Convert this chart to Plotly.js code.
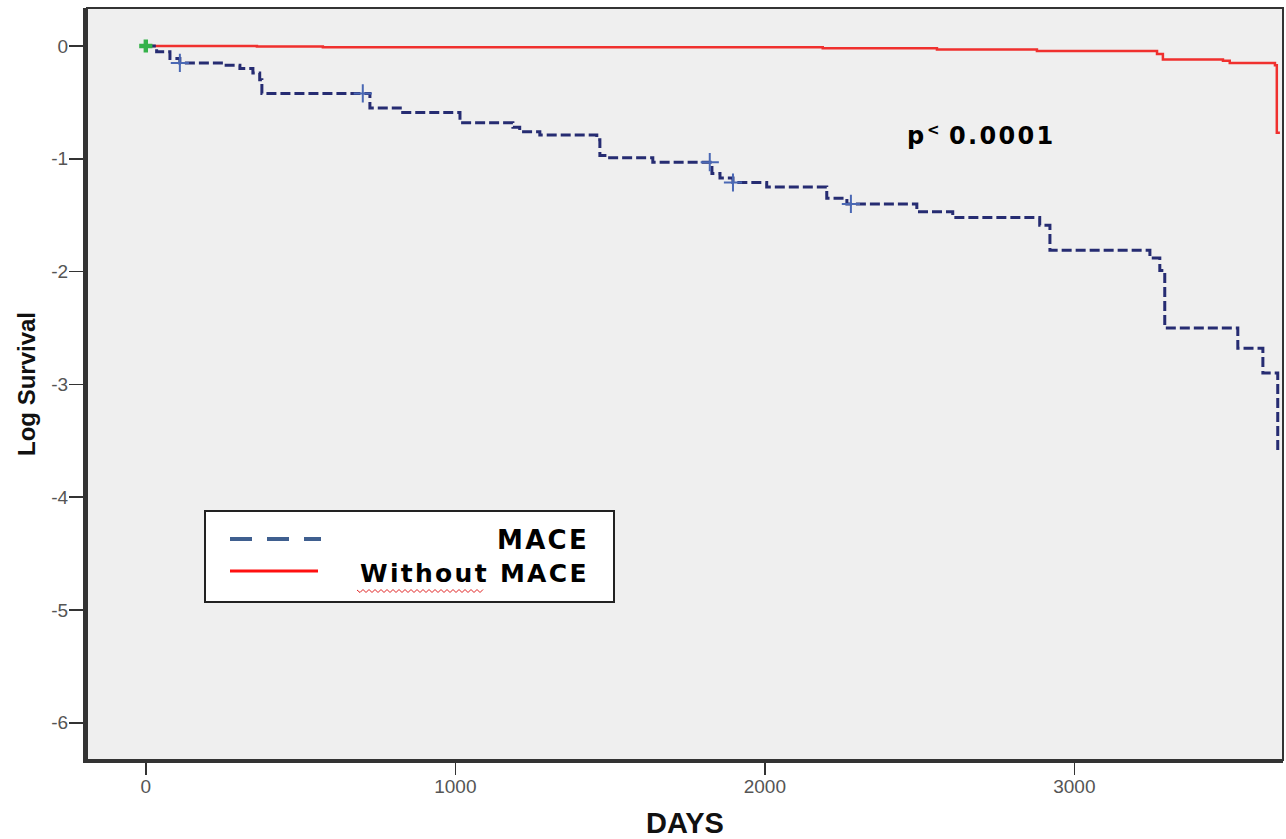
<!DOCTYPE html>
<html>
<head>
<meta charset="utf-8">
<script src="https://cdn.plot.ly/plotly-3.0.1.min.js"></script>
<style>
html,body{margin:0;padding:0;background:#fff;}
#chart{width:1286px;height:839px;}
text.annotation-text{letter-spacing:2.3px;}
</style>
</head>
<body>
<div id="chart"></div>
<script>
// ---- data ----
const maceDays = [0, 35, 78, 110, 250, 304, 346, 368, 375, 724, 830, 1015, 1186, 1208, 1273, 1457, 1467, 1490, 1638, 1829, 1855, 1897, 2006, 2200, 2265, 2491, 2607, 2888, 2921, 3244, 3276, 3292, 3528, 3609, 3657, 3662];
const maceLogSurv = [0, -0.05, -0.11, -0.15, -0.17, -0.20, -0.24, -0.30, -0.42, -0.55, -0.59, -0.68, -0.72, -0.76, -0.79, -0.83, -0.97, -0.99, -1.03, -1.13, -1.17, -1.21, -1.25, -1.35, -1.40, -1.47, -1.52, -1.59, -1.81, -1.88, -1.99, -2.50, -2.68, -2.90, -3.60, -3.60];
const maceCensorDays = [110, 701, 1822, 1897, 2278];
const maceCensorLogSurv = [-0.15, -0.42, -1.03, -1.21, -1.40];

const noMaceDays = [0, 359, 572, 2187, 2556, 2879, 3267, 3286, 3480, 3502, 3648, 3654, 3664];
const noMaceLogSurv = [0, -0.005, -0.012, -0.02, -0.03, -0.045, -0.07, -0.12, -0.13, -0.15, -0.17, -0.77, -0.77];

const startDays = [0];
const startLogSurv = [0];

const xTickVals = [0, 1000, 2000, 3000];
const xTickText = ['0', '1000', '2000', '3000'];
const yTickVals = [0, -1, -2, -3, -4, -5, -6];
const yTickText = ['0', '-1', '-2', '-3', '-4', '-5', '-6'];

const seriesNames = ['MACE', 'Without MACE'];
const pParts = ['p', '<', '0.0001'];

// ---- chart ----
const sans = 'Liberation Sans, Arial, sans-serif';
const wide = 'DejaVu Sans, Verdana, sans-serif';

const traces = [
  {x: noMaceDays, y: noMaceLogSurv, mode: 'lines', line: {shape: 'hv', color: '#f0302e', width: 2.5}, name: seriesNames[1]},
  {x: maceDays, y: maceLogSurv, mode: 'lines', line: {shape: 'hv', color: '#262c72', width: 3, dash: '10px,4px'}, name: seriesNames[0]},
  {x: maceCensorDays, y: maceCensorLogSurv, mode: 'markers', marker: {symbol: 'cross-thin', size: 13, line: {color: '#4a68b4', width: 2}}, name: 'censored'},
  {x: startDays, y: startLogSurv, mode: 'markers', marker: {symbol: 'cross', size: 11, color: '#35b24a'}, name: 'start'}
];

// pixel -> paper / data helpers for the annotation boxes
const px = v => (v - 87) / 1196;
const py = v => (760 - v) / 752;
const dx = v => -190 + (v - 87) / 1196 * (3674 + 190);
const dy = v => 0.337 - (v - 8) / 752 * (0.337 + 6.33);

// spell-check style squiggle under "Without"
let squiggle = 'M ' + px(357) + ' ' + py(590);
for (let k = 1, xx = 357; xx < 483; k++) {
  xx = Math.min(483, 357 + k * 3);
  squiggle += ' L ' + px(xx) + ' ' + py(k % 2 ? 592.5 : 589.5);
}

const bold = (fam, size) => ({family: fam, size: size, color: '#000', weight: 'bold'});

const layout = {
  width: 1286, height: 839,
  margin: {l: 87, r: 3, t: 8, b: 79},
  paper_bgcolor: '#ffffff', plot_bgcolor: '#efefef',
  showlegend: false,
  xaxis: {
    range: [-190, 3674], tickvals: xTickVals, ticktext: xTickText,
    ticks: 'outside', ticklen: 12, tickwidth: 1.5, tickcolor: '#333',
    ticklabelstandoff: -5,
    showgrid: false, zeroline: false, showline: true, linecolor: '#333', linewidth: 3,
    tickfont: {family: sans, size: 19, color: '#555'},
    title: {text: 'DAYS', font: {family: sans, size: 29, color: '#111', weight: 'bold'}, standoff: 20}
  },
  yaxis: {
    range: [-6.33, 0.337], tickvals: yTickVals, ticktext: yTickText,
    ticks: 'outside', ticklen: 14, tickwidth: 1.5, tickcolor: '#333',
    ticklabelstandoff: -3,
    showgrid: false, zeroline: false, showline: true, linecolor: '#333', linewidth: 4,
    tickfont: {family: sans, size: 19, color: '#555'},
    title: {text: 'Log Survival', font: {family: sans, size: 24, color: '#111', weight: 'bold'}, standoff: 10}
  },
  shapes: [
    {type: 'rect', xref: 'paper', yref: 'paper', x0: 0, x1: 1, y0: 0, y1: 1, line: {color: '#333', width: 2}},
    {type: 'rect', xref: 'paper', yref: 'paper', x0: px(205), x1: px(614), y0: py(602), y1: py(511), fillcolor: '#ffffff', line: {color: '#222', width: 2}},
    {type: 'line', xref: 'paper', yref: 'paper', x0: px(230), x1: px(321), y0: py(539), y1: py(539), line: {color: '#3f5f8f', width: 4, dash: '22px,15px'}},
    {type: 'line', xref: 'paper', yref: 'paper', x0: px(230), x1: px(318), y0: py(571), y1: py(571), line: {color: '#ff1010', width: 3}},
    {type: 'path', xref: 'paper', yref: 'paper', path: squiggle, line: {color: '#e02020', width: 1}}
  ],
  annotations: [
    {xref: 'paper', yref: 'paper', x: px(591), y: py(540), xanchor: 'right', yanchor: 'middle', showarrow: false, text: seriesNames[0], font: bold(wide, 26)},
    {xref: 'paper', yref: 'paper', x: px(591), y: py(573), xanchor: 'right', yanchor: 'middle', showarrow: false, text: seriesNames[1], font: bold(wide, 25)},
    {xref: 'x', yref: 'y', x: dx(928), y: dy(136), xanchor: 'right', yanchor: 'middle', showarrow: false, text: pParts[0], font: bold(wide, 24)},
    {xref: 'x', yref: 'y', x: dx(934), y: dy(130), xanchor: 'center', yanchor: 'middle', showarrow: false, text: pParts[1], font: bold(wide, 15)},
    {xref: 'x', yref: 'y', x: dx(947), y: dy(136), xanchor: 'left', yanchor: 'middle', showarrow: false, text: pParts[2], font: bold(wide, 24)}
  ]
};

Plotly.newPlot('chart', traces, layout, {displayModeBar: false, staticPlot: true});
</script>
</body>
</html>
